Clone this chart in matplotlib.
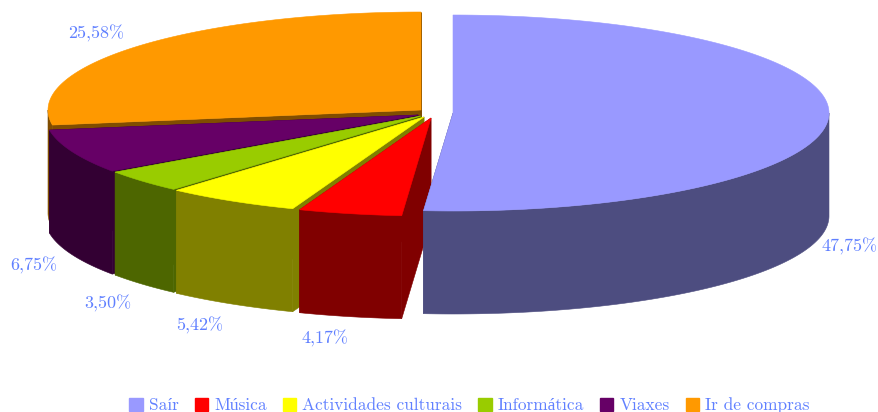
import numpy as np
from matplotlib import pyplot as plt
from matplotlib.patches import Patch

labels = ['Saír', 'Música', 'Actividades culturais', 'Informática', 'Viaxes', 'Ir de compras']
values = [47.75, 4.17, 5.42, 3.50, 6.75, 25.58]
value_labels = ['47,75%', '4,17%', '5,42%', '3,50%', '6,75%', '25,58%']
top_colors = ['#9999FF', '#FF0000', '#FFFF00', '#99CC00', '#660066', '#FF9900']
side_colors = ['#4D4D80', '#800000', '#808000', '#4D6600', '#330033', '#804D00']

# each slice is pulled out a bit, so each has its own centre (pixels)
centers = [(453, 113), (431, 118), (424, 117), (421, 116), (418, 115), (421, 110)]
label_pos = [(850, 246), (325, 338), (200, 325), (108, 303), (34, 265), (96, 33)]
rx = [376, 373, 373, 373, 373, 373]
ry = 98
depth = 103
text_color = '#6080FF'

plt.rcParams['font.family'] = ['cmr10', 'Liberation Serif']

fig = plt.figure(figsize=(8.79, 4.12), dpi=100)
ax = fig.add_axes([0, 0, 1, 1])
ax.set_xlim(0, 879)
ax.set_ylim(412, 0)
ax.axis('off')

# angles clockwise from the top, the shown percentages do not add to 100
fracs = np.array(values) / np.sum(values)
edges = np.concatenate([[0], np.cumsum(fracs)]) * 2 * np.pi


def rim(i, a0, a1):
    t = np.linspace(a0, a1, 200)
    return centers[i][0] + rx[i] * np.sin(t), centers[i][1] - ry * np.cos(t)


def fill(x, y, color):
    ax.fill(x, y, color=color, lw=0.4)


# painter's order, from the back slice to the front one
for i in [5, 4, 3, 2, 1, 0]:
    a0, a1 = edges[i], edges[i + 1]
    cx, cy = centers[i]
    x, y = rim(i, a0, a1)
    # cut faces
    fill([cx, x[0], x[0], cx], [cy, y[0], y[0] + depth, cy + depth], side_colors[i])
    fill([cx, x[-1], x[-1], cx], [cy, y[-1], y[-1] + depth, cy + depth], side_colors[i])
    # outer wall, only the front half of the rim shows
    w0, w1 = max(a0, np.pi / 2), min(a1, 3 * np.pi / 2)
    if w1 > w0:
        wx, wy = rim(i, w0, w1)
        fill(np.r_[wx, wx[::-1]], np.r_[wy, wy[::-1] + depth], side_colors[i])
    # top
    fill(np.r_[cx, x], np.r_[cy, y], top_colors[i])

for (lx, ly), s in zip(label_pos, value_labels):
    ax.text(lx, ly, s, color=text_color, fontsize=13, ha='center', va='center')

handles = [Patch(color=c, label=l) for c, l in zip(top_colors, labels)]
ax.legend(handles=handles, ncol=6, loc='lower center', bbox_to_anchor=(0.534, -0.032),
          frameon=False, fontsize=12.45, labelcolor=text_color, handlelength=0.78,
          handleheight=0.78, handletextpad=0.35, columnspacing=0.92, borderpad=0.2)

fig.savefig('out.png', dpi=100)
